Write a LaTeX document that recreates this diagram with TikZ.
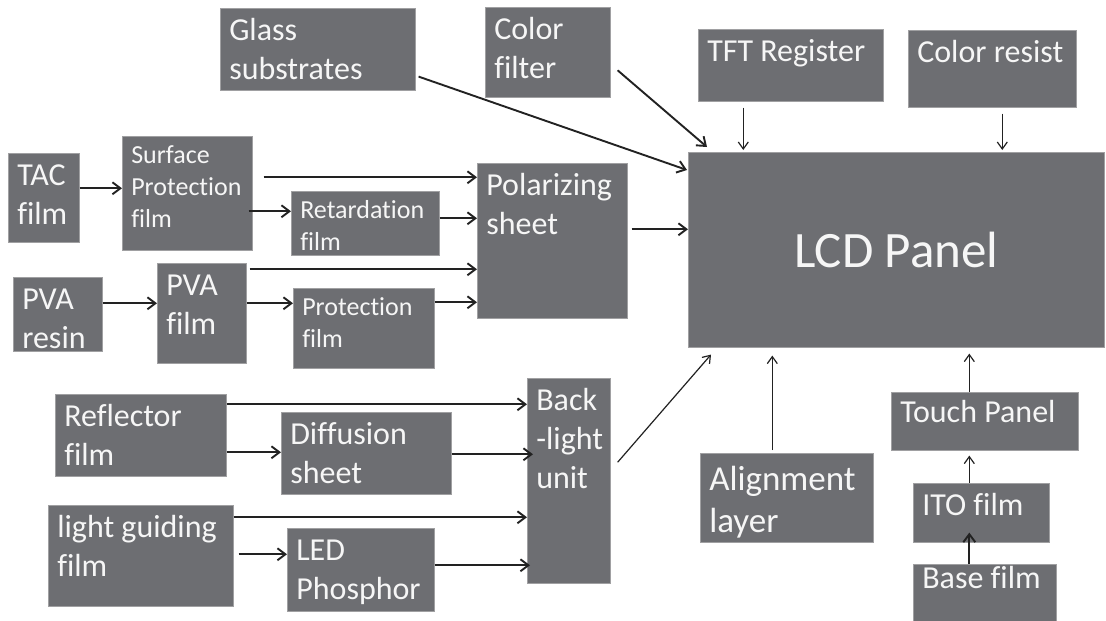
\documentclass[tikz,border=0pt]{standalone}
\usepackage{fontspec}
\setmainfont{Carlito}[Ligatures=NoCommon]
\usepackage{xcolor}
\usetikzlibrary{arrows.meta}
\definecolor{boxgray}{RGB}{109,110,114}
\definecolor{boxedge}{RGB}{160,160,162}
\definecolor{boxtext}{RGB}{246,246,246}
\definecolor{ink}{RGB}{34,34,34}
\tikzset{
  block/.style 2 args = {draw=boxedge, line width=0.6pt, fill=boxgray, text=boxtext,
                   anchor=north west, align=left, inner xsep=9pt, inner ysep=5pt,
                   text width=#1pt-18pt, text height=27pt, text depth=#2pt-37pt,
                   font=\fontsize{32}{39}\selectfont,
                   execute at begin node={\spaceskip=0pt\xspaceskip=0pt\relax}},
  smallblock/.style 2 args = {block={#1}{#2}, text height=22pt, text depth=#2pt-32pt,
                   font=\fontsize{26}{32}\selectfont},
  panel/.style  = {draw=boxedge, line width=0.6pt, fill=boxgray, text=boxtext,
                   anchor=north west, minimum width=416pt, minimum height=195pt,
                   font=\fontsize{51}{60}\selectfont},
  arrow/.style  = {-{Straight Barb[length=8pt,width=12pt]}, line width=1.9pt, draw=ink},
  thinarrow/.style = {-{Straight Barb[length=7pt,width=10pt]}, line width=1.2pt, draw=ink},
}
\begin{document}
\begin{tikzpicture}[x=1pt, y=-1pt]
  \fill[white] (0,0) rectangle (1106,621);
  \useasboundingbox (0,0) rectangle (1106,621);

  \node[block={195}{82}]  (glass) at (220,8)   {Glass\\substrates};
  \node[block={125}{90}]  (cf)    at (485,7)   {Color\\filter};
  \node[block={185}{72}]  (tft)   at (698,29)  {TFT Register};
  \node[block={168}{77}]  (cr)    at (908,30)  {Color resist};
  \node[panel]            (lcd)   at (688,152) {LCD Panel};

  \node[block={71}{89}]        (tac)  at (8,153)   {TAC\\film};
  \node[smallblock={130}{114}] (spf)  at (122,136) {Surface\\Protection\\film};
  \node[smallblock={148}{64}]  (ret)  at (291,191) {Retardation\\film};
  \node[block={150}{155}]      (pol)  at (477,163) {Polarizing\\sheet};
  \node[block={89}{74}]        (pvar) at (13,277)  {PVA\\resin};
  \node[block={89}{100}]       (pvaf) at (157,263) {PVA\\film};
  \node[smallblock={141}{80}]  (prot) at (293,288) {Protection\\film};

  \node[block={171}{82}]  (refl) at (55,394)  {Reflector\\film};
  \node[block={170}{82}]  (diff) at (281,412) {Diffusion\\sheet};
  \node[block={83}{205}]  (blu)  at (527,378) {Back\\\mbox{-light}\\unit};
  \node[block={185}{101}] (lgf)  at (48,505)  {light guiding\\film};
  \node[block={147}{83}]  (led)  at (287,528) {LED\\Phosphor};

  \node[block={173}{89}, text height=32pt, text depth=47pt,
        font=\fontsize{35}{42}\selectfont] (align) at (700,453) {Alignment\\layer};
  \node[block={187}{58}, text height=25pt, text depth=23pt] (touch) at (891,392) {Touch Panel};
  \node[block={136}{59}]  (ito)  at (913,483) {ITO film};
  \node[block={143}{60}, text height=19pt, text depth=31pt] (base) at (913,564) {Base film};

  \draw[arrow] ([xshift=3pt,yshift=14pt]glass.south east) -- ([xshift=-1pt,yshift=-18pt]lcd.north west);
  \draw[arrow] ([xshift=7pt,yshift=-18pt]cf.east) -- ([xshift=19pt,yshift=5pt]lcd.north west);
  \draw[thinarrow] ([xshift=-47.5pt,yshift=-6pt]tft.south) -- ([xshift=-153pt,yshift=2pt]lcd.north);
  \draw[thinarrow] ([xshift=10pt,yshift=-6pt]cr.south) -- ([xshift=106pt,yshift=2pt]lcd.north);
  \draw[arrow] ([xshift=4pt,yshift=11.5pt]pol.east) -- ([yshift=20.5pt]lcd.west);

  \draw[arrow] ([yshift=9.5pt]tac.east) -- ([yshift=5pt]spf.west);
  \draw[arrow] ([xshift=11pt,yshift=16pt]spf.east) -- ([yshift=63.5pt]pol.west);
  \draw[arrow] ([xshift=-4pt,yshift=-18pt]spf.east) -- ([yshift=12pt]ret.west);
  \draw[arrow] ([yshift=5pt]ret.east) -- ([yshift=22.5pt]pol.west);
  \draw[arrow] ([yshift=11pt]pvar.east) -- ([yshift=10pt]pvaf.west);
  \draw[arrow] ([xshift=3pt,yshift=44pt]pvaf.east) -- ([yshift=-28.5pt]pol.west);
  \draw[arrow] ([yshift=10pt]pvaf.east) -- ([yshift=25pt]prot.west);
  \draw[arrow] ([yshift=26pt]prot.east) -- ([yshift=-61.5pt]pol.west);

  \draw[arrow] ([yshift=31pt]refl.east) -- ([yshift=76.5pt]blu.west);
  \draw[arrow] ([yshift=-17pt]refl.east) -- ([yshift=1pt]diff.west);
  \draw[arrow] ([yshift=-1pt]diff.east) -- ([xshift=6pt,yshift=26.5pt]blu.west);
  \draw[arrow] ([yshift=38.5pt]lgf.east) -- ([yshift=-36.5pt]blu.west);
  \draw[arrow] ([xshift=5pt,yshift=1.5pt]lgf.east) -- ([yshift=15.5pt]led.west);
  \draw[arrow] ([yshift=4.5pt]led.east) -- ([xshift=3pt,yshift=-84.5pt]blu.west);
  \draw[thinarrow] ([xshift=7pt,yshift=18.5pt]blu.east) -- ([xshift=23pt,yshift=-7pt]lcd.south west);

  \draw[thinarrow] ([xshift=-14.5pt,yshift=3pt]align.north) -- ([xshift=-124pt,yshift=-8pt]lcd.south);
  \draw[thinarrow] ([xshift=-15.5pt]touch.north) -- ([xshift=73pt,yshift=-6pt]lcd.south);
  \draw[thinarrow] ([xshift=-12pt]ito.north) -- ([xshift=-15.5pt,yshift=-5pt]touch.south);
  \draw[arrow] ([xshift=-15.5pt]base.north) -- ([xshift=-12pt,yshift=10pt]ito.south);
\end{tikzpicture}
\end{document}
